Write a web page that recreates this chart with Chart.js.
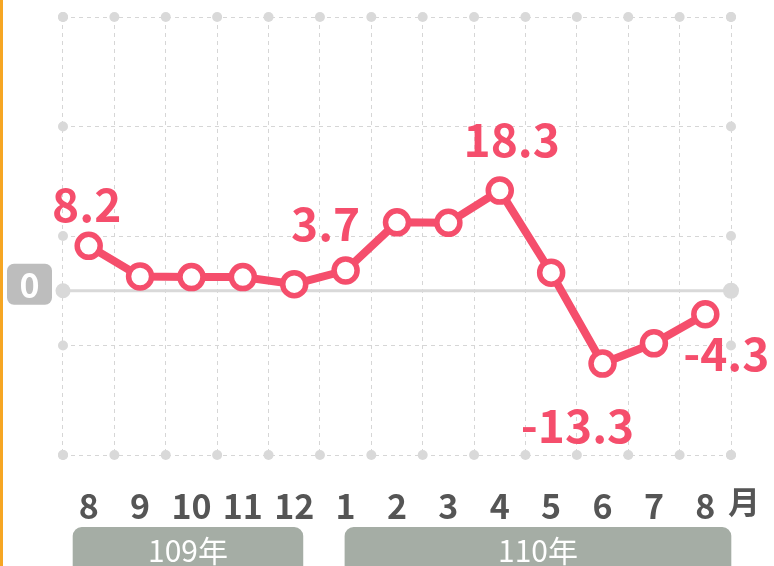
<!DOCTYPE html>
<html>
<head>
<meta charset="utf-8">
<script src="https://cdn.jsdelivr.net/npm/chart.js@4"></script>
<style>
html,body{margin:0;padding:0;background:#fff;}
#wrap{position:relative;width:774px;height:566px;overflow:hidden;}
canvas{display:block;}
</style>
</head>
<body>
<div id="wrap"><canvas id="c" width="774" height="566"></canvas></div>
<script>
const categories = ['8','9','10','11','12','1','2','3','4','5','6','7','8'];
const values = [8.2, 2.6, 2.5, 2.5, 1.2, 3.7, 12.5, 12.4, 18.3, 3.3, -13.3, -9.6, -4.3];
const yTicks = [-30, -10, 10, 30, 50];
const labeledIdx = [0, 5, 8, 10, 12];
const unitLabel = '月';
const years = [
  {label: '109年', from: 0, to: 4},
  {label: '110年', from: 5, to: 12}
];

const PINK = '#f54e6c';
const FONT = '"Noto Sans CJK TC","Noto Sans",sans-serif';

// label offsets (style)
const labelOffsets = {0:[-2,-41], 5:[-20,-47], 8:[12,-51], 10:[-25,62], 12:[21,39]};

const decor = {
  id: 'decor',
  beforeDatasetsDraw(chart) {
    const {ctx, chartArea: a, scales: {x, y}} = chart;
    ctx.save();
    // left orange line
    ctx.fillStyle = '#f6a623';
    ctx.fillRect(0, 0, 3, chart.height);
    // zero line
    const y0 = y.getPixelForValue(0);
    ctx.strokeStyle = '#d9d9d9';
    ctx.lineWidth = 3;
    ctx.beginPath(); ctx.moveTo(a.left, y0); ctx.lineTo(a.right, y0); ctx.stroke();
    ctx.fillStyle = '#d9d9d9';
    ctx.beginPath(); ctx.arc(a.left, y0, 7.5, 0, Math.PI*2); ctx.fill();
    ctx.beginPath(); ctx.arc(a.right, y0, 8, 0, Math.PI*2); ctx.fill();
    // grid end dots
    const n = categories.length;
    const step = (a.right - a.left) / n;
    for (let i = 0; i <= n; i++) {
      const gx = a.left + step * i;
      [a.top, a.bottom].forEach(gy => {
        ctx.beginPath(); ctx.arc(gx, gy, 5, 0, Math.PI*2); ctx.fill();
      });
    }
    yTicks.forEach(v => {
      const gy = y.getPixelForValue(v);
      [a.left, a.right].forEach(gx => {
        ctx.beginPath(); ctx.arc(gx, gy, 5, 0, Math.PI*2); ctx.fill();
      });
    });
    // zero box
    ctx.fillStyle = '#bdbdbd';
    ctx.beginPath(); ctx.roundRect(7, y0 - 27, 45, 41, 7); ctx.fill();
    ctx.fillStyle = '#fff';
    ctx.font = 'bold 34px ' + FONT;
    ctx.textAlign = 'center'; ctx.textBaseline = 'middle';
    ctx.fillText('0', 29.5, y0 - 6);
    ctx.restore();
  },
  afterDatasetsDraw(chart) {
    const {ctx, chartArea: a, scales: {x, y}} = chart;
    ctx.save();
    // value labels
    ctx.fillStyle = PINK;
    ctx.font = 'bold 46px ' + FONT;
    ctx.textAlign = 'center'; ctx.textBaseline = 'middle';
    labeledIdx.forEach(i => {
      const px = x.getPixelForValue(i), py = y.getPixelForValue(values[i]);
      const o = labelOffsets[i];
      ctx.fillText(values[i].toFixed(1), px + o[0], py + o[1]);
    });
    // x tick labels
    ctx.fillStyle = '#555555';
    ctx.font = 'bold 34px ' + FONT;
    categories.forEach((c, i) => {
      ctx.fillText(c, x.getPixelForValue(i), a.bottom + 51);
    });
    ctx.font = 'bold 32px ' + FONT;
    ctx.fillText(unitLabel, a.right + 13, a.bottom + 47);
    // year boxes
    years.forEach((yb, k) => {
      const l = x.getPixelForValue(yb.from) + (k === 0 ? -16 : -1);
      const r = x.getPixelForValue(yb.to) + (k === 0 ? 9 : 26);
      ctx.fillStyle = '#a5ada5';
      ctx.beginPath(); ctx.roundRect(l, a.bottom + 72, r - l, 60, 9); ctx.fill();
      ctx.fillStyle = '#ffffff';
      ctx.font = '400 30px ' + FONT;
      ctx.fillText(yb.label, (l + r) / 2, a.bottom + 96);
    });
    ctx.restore();
  }
};

new Chart(document.getElementById('c'), {
  type: 'line',
  data: {
    labels: categories,
    datasets: [{
      data: values,
      borderColor: PINK,
      borderWidth: 8,
      pointRadius: 11.5,
      pointBorderWidth: 5.5,
      pointBackgroundColor: '#ffffff',
      pointBorderColor: PINK,
      tension: 0,
      clip: false
    }]
  },
  options: {
    responsive: false,
    animation: false,
    layout: {padding: {left: 63, right: 43, top: 15, bottom: 111}},
    plugins: {legend: {display: false}, tooltip: {enabled: false}},
    scales: {
      x: {
        offset: true,
        grid: {offset: true, color: '#d6d6d6', lineWidth: 1, drawTicks: false},
        border: {display: false, dash: [4, 4]},
        ticks: {display: false}
      },
      y: {
        min: -30, max: 50,
        afterBuildTicks(scale) { scale.ticks = yTicks.map(v => ({value: v})); },
        grid: {color: '#d6d6d6', lineWidth: 1, drawTicks: false},
        border: {display: false, dash: [4, 4]},
        ticks: {display: false}
      }
    }
  },
  plugins: [decor]
});
</script>
</body>
</html>
